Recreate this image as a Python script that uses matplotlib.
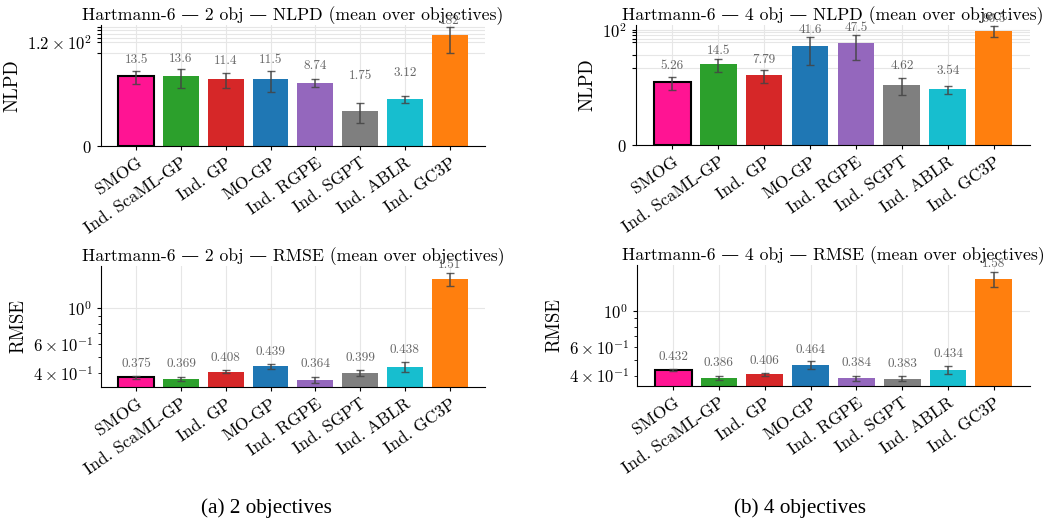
import numpy as np
import matplotlib
matplotlib.use("Agg")
import matplotlib.pyplot as plt

plt.rcParams['font.family'] = ['cmr10', 'DejaVu Serif']
plt.rcParams['mathtext.fontset'] = 'cm'
plt.rcParams['axes.formatter.use_mathtext'] = True
plt.rcParams['axes.unicode_minus'] = False
plt.rcParams['font.size'] = 12

methods = ['SMOG', 'Ind. ScaML-GP', 'Ind. GP', 'MO-GP', 'Ind. RGPE',
           'Ind. SGPT', 'Ind. ABLR', 'Ind. GC3P']
colors = ['#ff1493', '#2ca02c', '#d62728', '#1f77b4', '#9467bd',
          '#7f7f7f', '#17becf', '#ff7f0e']

# 2 objectives
nlpd_2 = [13.5, 13.6, 11.4, 11.5, 8.74, 1.75, 3.12, 182]
nlpd_2_err = [5.4, 7.4, 5.1, 6.7, 2.1, 0.6, 0.7, 124]
rmse_2 = [0.375, 0.369, 0.408, 0.439, 0.364, 0.399, 0.438, 1.51]
rmse_2_err = [0.007, 0.011, 0.009, 0.017, 0.015, 0.017, 0.031, 0.147]

# 4 objectives
nlpd_4 = [5.26, 14.5, 7.79, 41.6, 47.5, 4.62, 3.54, 96.5]
nlpd_4_err = [1.75, 5.2, 2.65, 27.3, 29.3, 2.0, 0.87, 30.4]
rmse_4 = [0.432, 0.386, 0.406, 0.464, 0.384, 0.383, 0.434, 1.58]
rmse_4_err = [0.005, 0.013, 0.007, 0.024, 0.0135, 0.013, 0.026, 0.167]


def bar_panel(ax, vals, errs, title, ylabel, kind, top_pad):
    x = np.arange(len(methods))
    vals = np.array(vals)
    errs = np.array(errs)
    bars = ax.bar(x, vals, width=0.8, color=colors, zorder=2)
    bars[0].set_edgecolor('black')
    bars[0].set_linewidth(1.5)
    ax.errorbar(x, vals, yerr=errs, fmt='none', ecolor='#444444', alpha=0.85,
                elinewidth=1.2, capsize=3, capthick=1.0, zorder=3)
    if kind == 'nlpd':
        ax.set_yscale('symlog', linthresh=2)
        top = (vals + errs).max() * top_pad
        ax.set_ylim(0, top)
    else:
        ax.set_yscale('log')
        top = (vals + errs).max() * top_pad
        ax.set_ylim(vals.min() * 0.9, top)
    off = 0.02 * top
    for xi, v, e in zip(x, vals, errs):
        ax.text(xi, v + e + off, f'{v:.3g}', ha='center', va='bottom',
                fontsize=9.5, color='#666666', zorder=4)
    ax.set_xticks(x)
    ax.set_xticklabels(methods, rotation=35, ha='right', rotation_mode='anchor',
                       fontsize=12.5)
    ax.set_title(title, fontsize=12.7, pad=3)
    ax.set_ylabel(ylabel, fontsize=13.5)
    ax.grid(True, color='#e6e6e6', linewidth=0.8, zorder=0)
    ax.set_axisbelow(True)
    for s in ['top', 'right']:
        ax.spines[s].set_visible(False)
    ax.tick_params(axis='x', length=3)
    ax.tick_params(axis='y', length=3)


fig = plt.figure(figsize=(10.55, 5.25), dpi=100)
ax_a1 = fig.add_axes([0.0957, 0.7219, 0.364, 0.2305])
ax_b1 = fig.add_axes([0.6028, 0.7238, 0.3735, 0.2286])
ax_a2 = fig.add_axes([0.0957, 0.2629, 0.364, 0.2305])
ax_b2 = fig.add_axes([0.6038, 0.2648, 0.3725, 0.2305])

bar_panel(ax_a1, nlpd_2, nlpd_2_err,
          'Hartmann-6 — 2 obj — NLPD (mean over objectives)', 'NLPD', 'nlpd', 1.15)
bar_panel(ax_b1, nlpd_4, nlpd_4_err,
          'Hartmann-6 — 4 obj — NLPD (mean over objectives)', 'NLPD', 'nlpd', 1.05)
bar_panel(ax_a2, rmse_2, rmse_2_err,
          'Hartmann-6 — 2 obj — RMSE (mean over objectives)', 'RMSE', 'rmse', 1.1)
bar_panel(ax_b2, rmse_4, rmse_4_err,
          'Hartmann-6 — 4 obj — RMSE (mean over objectives)', 'RMSE', 'rmse', 1.1)

# symlog tick positions for the NLPD panels
ax_a1.set_yticks([0, 60, 120, 150, 200, 250, 300])
ax_a1.set_yticklabels(['$0$', '', r'$1.2\times10^{2}$', '', '', '', ''])
ax_a1.yaxis.set_minor_locator(matplotlib.ticker.NullLocator())
ax_b1.set_yticks([0, 12, 25, 50, 60, 75, 90, 100])
ax_b1.set_yticklabels(['$0$', '', '', '', '', '', '', r'$10^{2}$'])
ax_b1.yaxis.set_minor_locator(matplotlib.ticker.NullLocator())

fig.text(0.253, 0.032, '(a) 2 objectives', ha='center', va='center',
         fontsize=15.3, family='Liberation Serif')
fig.text(0.758, 0.032, '(b) 4 objectives', ha='center', va='center',
         fontsize=15.3, family='Liberation Serif')

fig.savefig('out.png', dpi=100)
